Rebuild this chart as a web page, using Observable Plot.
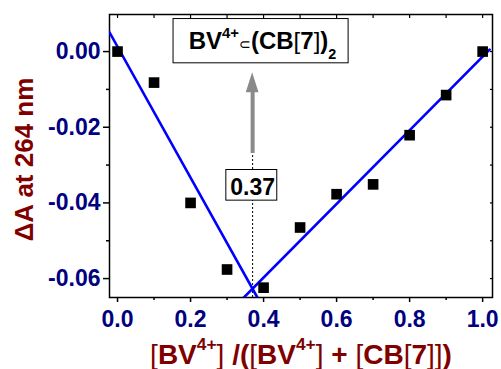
<!DOCTYPE html>
<html><head><meta charset="utf-8">
<script src="https://cdn.jsdelivr.net/npm/d3@7"></script>
<script src="https://cdn.jsdelivr.net/npm/@observablehq/plot@0.6"></script>
<style>body{margin:0;background:#fff} svg{display:block}</style>
</head><body><div id="chart"></div>
<script>
// ---- data ----
const ratio  = [0.0, 0.1, 0.2, 0.3, 0.4, 0.5, 0.6, 0.7, 0.8, 0.9, 1.0];
const deltaA = [0.000, -0.0082, -0.0400, -0.0576, -0.0624, -0.0465, -0.0377, -0.0351, -0.0221, -0.0115, 0.000];

// fitted straight lines (end points as drawn)
const fitLeftX  = [-0.022, 0.383];
const fitLeftY  = [0.0051, -0.065];
const fitRightX = [0.346, 1.019];
const fitRightY = [-0.065, 0.0005];

// ticks
const xTicks = [0.0, 0.2, 0.4, 0.6, 0.8, 1.0];
const xMinor = [0.1, 0.3, 0.5, 0.7, 0.9];
const xTop   = [0.0, 0.1, 0.2, 0.3, 0.4, 0.5, 0.6, 0.7, 0.8, 0.9, 1.0];
const yTicks = [0.00, -0.02, -0.04, -0.06];
const yMinor = [-0.01, -0.03, -0.05];
const yRight = [0.00, -0.01, -0.02, -0.03, -0.04, -0.05, -0.06];

// annotations
const crossX = 0.37;
const crossLabel = "0.37";
const title = "BV4+⊂(CB[7])2";
const xLabel = "[BV4+] /([BV4+] + [CB[7]])";
const yLabel = "ΔA at 264 nm";

const xDomain = [-0.022, 1.027];
const yDomain = [-0.065, 0.0098];

const NAVY = "#000080", RED = "#800000", BLUE = "#0000ff", GRAY = "#8a8a8a";
const FONT = "'Liberation Sans', Arial, Helvetica, sans-serif";

const points = ratio.map((x, i) => ({x, y: deltaA[i]}));
const fitLeft = fitLeftX.map((x, i) => ({x, y: fitLeftY[i]}));
const fitRight = fitRightX.map((x, i) => ({x, y: fitRightY[i]}));

// annotation geometry (data units)
const arrowTail = -0.0268, arrowHeadBase = -0.0109, arrowTip = -0.0056, headHalf = 0.0175;
const head = [
  {y: arrowHeadBase, x1: crossX - headHalf, x2: crossX + headHalf},
  {y: arrowTip, x1: crossX, x2: crossX}
];
const crossBox = [{x1: 0.298, x2: 0.4375, y1: -0.0394, y2: -0.0313}];
const titleBox = [{x1: 0.1534, x2: 0.6329, y1: -0.0031, y2: 0.0086}];

const plot = Plot.plot({
  width: 501, height: 369,
  marginLeft: 109, marginRight: 9, marginTop: 14, marginBottom: 72,
  style: {fontFamily: FONT, background: "#fff", overflow: "visible"},
  x: {domain: xDomain},
  y: {domain: yDomain},
  marks: [
    Plot.axisX({ticks: xTicks, tickSize: 5, tickPadding: 8, tickFormat: d => d.toFixed(1),
      fill: NAVY, stroke: "black", strokeWidth: 1.5, fontSize: 23, fontWeight: "bold", label: null}),
    Plot.axisX({ticks: xMinor, tickSize: 3, fill: "none", stroke: "black", strokeWidth: 1.5, label: null}),
    Plot.axisX({anchor: "top", ticks: xTop, tickSize: -3, fill: "none", stroke: "black", strokeWidth: 1.2, label: null}),
    Plot.axisY({ticks: yTicks, tickSize: 6, tickPadding: 3, tickFormat: d => d.toFixed(2),
      fill: NAVY, stroke: "black", strokeWidth: 1.5, fontSize: 23, fontWeight: "bold", label: null}),
    Plot.axisY({ticks: yMinor, tickSize: 3, fill: "none", stroke: "black", strokeWidth: 1.5, label: null}),
    Plot.axisY({anchor: "right", ticks: yRight, tickSize: -3, fill: "none", stroke: "black", strokeWidth: 1.2, label: null}),
    Plot.frame({stroke: "black", strokeWidth: 1.5}),
    Plot.ruleX([crossX], {y1: yDomain[0], y2: arrowTail, stroke: "black", strokeWidth: 1, strokeDasharray: "2,2"}),
    Plot.line(fitLeft, {x: "x", y: "y", stroke: BLUE, strokeWidth: 2.6, clip: true}),
    Plot.line(fitRight, {x: "x", y: "y", stroke: BLUE, strokeWidth: 2.6, clip: true}),
    Plot.dot(points, {x: "x", y: "y", symbol: "square", r: 6, fill: "black", stroke: null}),
    Plot.link([{x: crossX}], {x1: "x", x2: "x", y1: () => arrowTail, y2: () => arrowHeadBase + 0.0004, stroke: GRAY, strokeWidth: 4}),
    Plot.areaX(head, {y: "y", x1: "x1", x2: "x2", fill: GRAY}),
    Plot.rect(crossBox, {x1: "x1", x2: "x2", y1: "y1", y2: "y2", fill: "white", stroke: "black", strokeWidth: 1}),
    Plot.rect(titleBox, {x1: "x1", x2: "x2", y1: "y1", y2: "y2", fill: "white", stroke: "black", strokeWidth: 1}),
    Plot.text([crossLabel], {text: d => d, x: () => crossX, y: () => -0.0379, lineAnchor: "bottom",
      fontSize: 23, fontWeight: "bold", fill: "black"}),
    Plot.text([title], {text: d => d, x: () => 0.397, y: () => 0.0007, lineAnchor: "bottom",
      fontSize: 24, fontWeight: "bold", fill: "black"}),
    Plot.text([xLabel], {text: d => d, frameAnchor: "bottom", dy: 66, lineAnchor: "bottom",
      fontSize: 28, fontWeight: "bold", fill: RED}),
    Plot.text([yLabel], {text: d => d, frameAnchor: "left", textAnchor: "middle", rotate: -90, dx: -77, dy: 3.5,
      lineAnchor: "bottom", fontSize: 26, fontWeight: "bold", fill: RED})
  ]
});

// rich text (superscripts / subscripts / thin brackets)
const SUP = {s: 0.62, sh: 0.47};
const rich = {
  [title]: {size: 24, segs: [
    {t: "BV"}, {t: "4+", ...SUP}, {t: "⊂", s: 0.6, w: "normal"}, {t: "(CB"},
    {t: "[", w: "normal"}, {t: "7"}, {t: "]", w: "normal"}, {t: ")"}, {t: "2", s: 0.6, sh: -0.4}
  ]},
  [xLabel]: {size: 28, segs: [
    {t: "[", w: "normal"}, {t: "BV"}, {t: "4+", ...SUP}, {t: "]", w: "normal"}, {t: " /("},
    {t: "[", w: "normal"}, {t: "BV"}, {t: "4+", ...SUP}, {t: "]", w: "normal"}, {t: " + "},
    {t: "[", w: "normal"}, {t: "CB"}, {t: "[", w: "normal"}, {t: "7"}, {t: "]]", w: "normal"}, {t: ")"}
  ]}
};
const NS = "http://www.w3.org/2000/svg";
d3.select(plot).selectAll("text").each(function () {
  const r = rich[this.textContent];
  if (!r) return;
  this.textContent = "";
  let cur = 0;
  for (const sg of r.segs) {
    const sh = (sg.sh || 0) * r.size;
    const ts = document.createElementNS(NS, "tspan");
    ts.textContent = sg.t;
    ts.setAttribute("dy", cur - sh);
    if (sg.s) ts.setAttribute("font-size", sg.s * r.size);
    if (sg.w) ts.setAttribute("font-weight", sg.w);
    this.appendChild(ts);
    cur = sh;
  }
});

document.getElementById("chart").appendChild(plot);
</script>
</body></html>
